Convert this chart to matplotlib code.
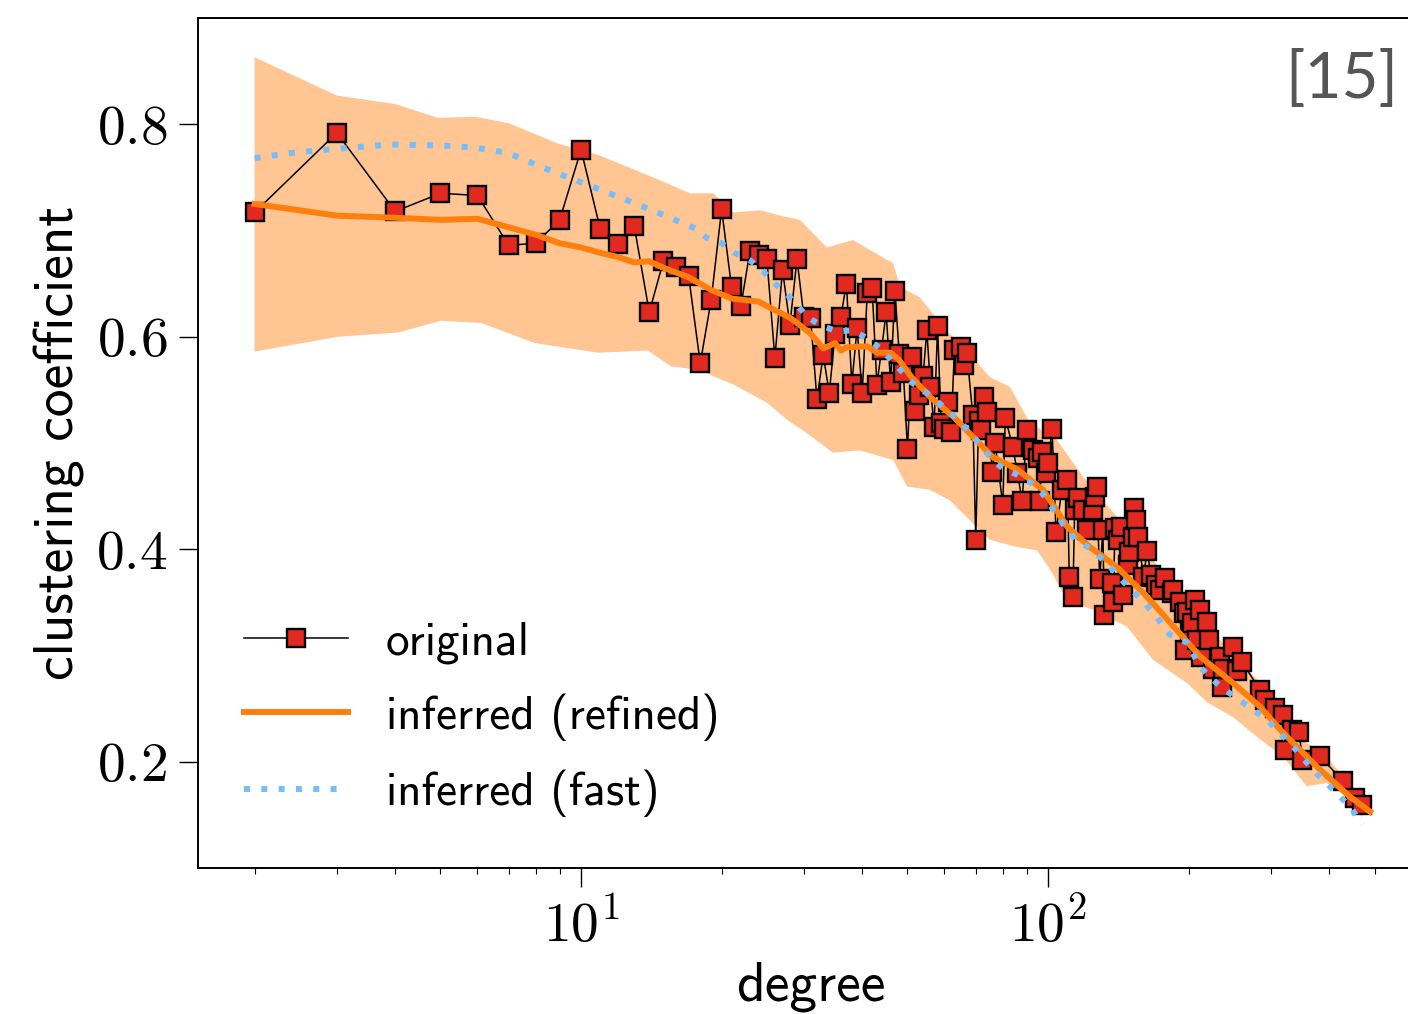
import matplotlib
matplotlib.use("Agg")
import matplotlib.pyplot as plt
import numpy as np

plt.rcParams['font.family'] = 'cmr10'
plt.rcParams['mathtext.fontset'] = 'cm'
plt.rcParams['axes.formatter.use_mathtext'] = True

# original network: degree -> mean clustering coefficient
deg_orig = [2, 3, 4, 5, 6, 7, 8, 9, 10, 11, 12, 13, 14, 15, 16, 17, 18, 19, 20,
            21, 22, 23, 24, 25, 26, 27, 28, 29, 30, 31, 32, 33, 34, 35, 36, 37,
            38, 39, 40, 41, 42, 43, 44, 45, 46, 47, 48, 49, 50, 51, 52, 53, 54,
            55, 56, 57, 58, 59, 60, 61, 62, 63, 65, 66, 67, 69, 70, 71, 72, 73,
            74, 76, 77, 80, 81, 84, 86, 88, 90, 93, 95, 96, 97, 99, 100, 102,
            104, 107, 110, 111, 113, 114, 116, 119, 121, 125, 126, 127, 129,
            131, 132, 137, 138, 139, 141, 143, 145, 148, 149, 152, 153, 154,
            156, 160, 163, 166, 170, 174, 178, 184, 185, 192, 195, 196, 198,
            201, 203, 206, 208, 211, 213, 219, 221, 225, 233, 236, 237, 249,
            254, 260, 284, 291, 306, 318, 322, 333, 345, 350, 382, 428, 455, 470]
clu_orig = [0.717, 0.792, 0.718, 0.735, 0.733, 0.686, 0.688, 0.710, 0.776, 0.701,
            0.687, 0.704, 0.623, 0.671, 0.666, 0.657, 0.575, 0.635, 0.720, 0.647,
            0.629, 0.681, 0.677, 0.673, 0.580, 0.663, 0.611, 0.673, 0.619, 0.618,
            0.541, 0.583, 0.547, 0.603, 0.619, 0.650, 0.556, 0.608, 0.547, 0.641,
            0.646, 0.555, 0.588, 0.623, 0.557, 0.643, 0.584, 0.566, 0.494, 0.581,
            0.530, 0.545, 0.563, 0.606, 0.553, 0.515, 0.610, 0.519, 0.513, 0.539,
            0.510, 0.588, 0.590, 0.573, 0.585, 0.526, 0.409, 0.521, 0.512, 0.543,
            0.529, 0.473, 0.500, 0.442, 0.524, 0.496, 0.472, 0.445, 0.512, 0.493,
            0.486, 0.445, 0.492, 0.472, 0.481, 0.513, 0.416, 0.456, 0.465, 0.374,
            0.355, 0.437, 0.448, 0.437, 0.418, 0.437, 0.449, 0.459, 0.372, 0.418,
            0.338, 0.368, 0.350, 0.420, 0.409, 0.421, 0.357, 0.385, 0.397, 0.412,
            0.439, 0.428, 0.412, 0.374, 0.398, 0.376, 0.366, 0.362, 0.373, 0.359,
            0.362, 0.350, 0.340, 0.305, 0.341, 0.321, 0.331, 0.352, 0.315, 0.343,
            0.299, 0.332, 0.315, 0.287, 0.299, 0.270, 0.287, 0.308, 0.285, 0.294,
            0.268, 0.258, 0.251, 0.244, 0.211, 0.230, 0.228, 0.202, 0.205, 0.182,
            0.166, 0.159]

# inferred (refined) mean curve
deg_ref = [2, 3, 4, 5, 6, 7, 8, 9, 10, 11, 12, 13, 14, 15, 17, 19, 21, 24, 26,
           28, 29, 31, 33, 35, 36, 37, 41, 43, 46, 48, 51, 56, 63, 69, 76, 86,
           97.5, 110, 123, 140.6, 160, 180, 211.6, 249, 284, 319, 377, 443, 489]
clu_ref = [0.725, 0.714, 0.712, 0.710, 0.711, 0.703, 0.696, 0.688, 0.684, 0.679,
           0.675, 0.670, 0.671, 0.665, 0.656, 0.644, 0.636, 0.633, 0.625, 0.618,
           0.613, 0.603, 0.589, 0.594, 0.587, 0.590, 0.591, 0.585, 0.585, 0.578,
           0.562, 0.543, 0.524, 0.506, 0.487, 0.475, 0.456, 0.421, 0.402, 0.383,
           0.359, 0.334, 0.299, 0.274, 0.252, 0.227, 0.195, 0.167, 0.153]

# inferred (refined) spread band
deg_hi = [2, 3, 4, 4.94, 5.93, 7, 8.9, 10.9, 13.05, 14.8, 17.1, 19.2, 21.2, 24.2,
          26.7, 29.4, 33.6, 38.2, 46.6, 48.2, 53.2, 59.6, 67, 75, 82.8, 91.4,
          104.4, 118.9, 134.5, 155, 173.9, 194.5, 211.6, 233.3, 270.8, 294.5,
          318.5, 345.7, 382.3, 421.5, 481]
clu_hi = [0.863, 0.827, 0.819, 0.806, 0.807, 0.801, 0.782, 0.771, 0.757, 0.747,
          0.735, 0.735, 0.717, 0.719, 0.714, 0.710, 0.684, 0.691, 0.669, 0.647,
          0.637, 0.609, 0.587, 0.562, 0.553, 0.519, 0.503, 0.468, 0.440, 0.409,
          0.381, 0.352, 0.334, 0.315, 0.284, 0.268, 0.249, 0.221, 0.211, 0.190,
          0.158]
deg_lo = [2, 3.02, 4.06, 5.01, 6.11, 7.97, 10.9, 13.9, 15.6, 17.8, 21.2, 25,
          27.6, 30.5, 34.6, 39.5, 46.6, 49.9, 55.8, 61.6, 67, 75, 85.8, 94.7,
          101, 109.8, 124.9, 147.6, 167.7, 198.5, 219, 249, 284.4, 318.5, 357.7,
          395, 436, 470]
clu_lo = [0.586, 0.600, 0.604, 0.615, 0.613, 0.594, 0.585, 0.587, 0.572, 0.569,
          0.555, 0.538, 0.522, 0.509, 0.491, 0.493, 0.484, 0.459, 0.456, 0.446,
          0.430, 0.409, 0.402, 0.399, 0.381, 0.352, 0.343, 0.327, 0.296, 0.274,
          0.256, 0.242, 0.221, 0.205, 0.177, 0.180, 0.167, 0.148]

# inferred (fast) curve
deg_fast = [2, 2.39, 3.02, 3.92, 5.01, 5.93, 6.98, 8.09, 9.52, 11.04, 12.79,
            15.13, 17.54, 18.6, 20, 21.3, 23, 24.5, 26, 27.6, 29.1, 30.6, 32.9,
            35.4, 38, 40.9, 43.7, 46.4, 48.7, 51.4, 54.7, 57.9, 61.1, 65.2, 68.6,
            72.3, 75.9, 80.1, 86, 91.5, 97.1, 102.6, 110, 115, 123, 133.5, 146,
            159.8, 171, 182, 198.5, 211.6, 233.3, 266.7, 293.5, 318.5, 340, 368,
            407, 443, 471]
clu_fast = [0.768, 0.773, 0.777, 0.781, 0.780, 0.778, 0.773, 0.761, 0.749, 0.738,
            0.727, 0.714, 0.702, 0.693, 0.688, 0.679, 0.672, 0.662, 0.650, 0.640,
            0.629, 0.618, 0.610, 0.605, 0.606, 0.599, 0.589, 0.577, 0.567, 0.556,
            0.548, 0.539, 0.530, 0.519, 0.508, 0.496, 0.484, 0.476, 0.470, 0.463,
            0.453, 0.437, 0.418, 0.408, 0.401, 0.387, 0.368, 0.351, 0.336, 0.320,
            0.312, 0.289, 0.271, 0.253, 0.240, 0.224, 0.211, 0.193, 0.174, 0.158,
            0.141]

fig = plt.figure(figsize=(14.08, 10.14), dpi=100)
ax = fig.add_axes([198 / 1408, 146 / 1014, 1225 / 1408, 850 / 1014])

band_x = np.concatenate([deg_hi, deg_lo[::-1]])
band_y = np.concatenate([clu_hi, clu_lo[::-1]])
ax.fill(band_x, band_y, color='#ff7f0e', alpha=0.45, lw=0, zorder=1)

ax.plot(deg_orig, clu_orig, color='black', lw=1.1, marker='s', ms=12.5,
        mfc='#e2291f', mec='black', mew=1.7, label='original', zorder=2)
ax.plot(deg_ref, clu_ref, color='#ff7f0e', lw=4.3, label='inferred (refined)',
        zorder=3)
ax.plot(deg_fast, clu_fast, color='#76bdfb', lw=4.3, ls=(0, (1.0, 1.9)),
        label='inferred (fast)', zorder=4)

ax.set_xscale('log')
ax.set_xlim(1.513, 635)
ax.set_ylim(0.10, 0.90)
ax.set_yticks([0.2, 0.4, 0.6, 0.8])

ax.tick_params(axis='both', which='major', labelsize=40, length=14, width=1,
               pad=8)
ax.tick_params(axis='x', which='minor', length=4, width=0.8)
for s in ax.spines.values():
    s.set_linewidth(1.4)

ax.set_xlabel('degree', fontfamily='cmss10', fontsize=40, labelpad=6)
ax.set_ylabel('clustering coefficient', fontfamily='cmss10', fontsize=40,
              labelpad=8)

ax.legend(loc='center left', bbox_to_anchor=(0.003, 0.175), frameon=False,
          prop={'family': 'cmss10', 'size': 34}, handlelength=2.2,
          handletextpad=0.8, labelspacing=0.62)

fig.text(0.993, 0.951, '[15]', ha='right', va='top', fontsize=46,
         color='#555555', fontfamily='Lato')

fig.savefig('out.png', dpi=100)
